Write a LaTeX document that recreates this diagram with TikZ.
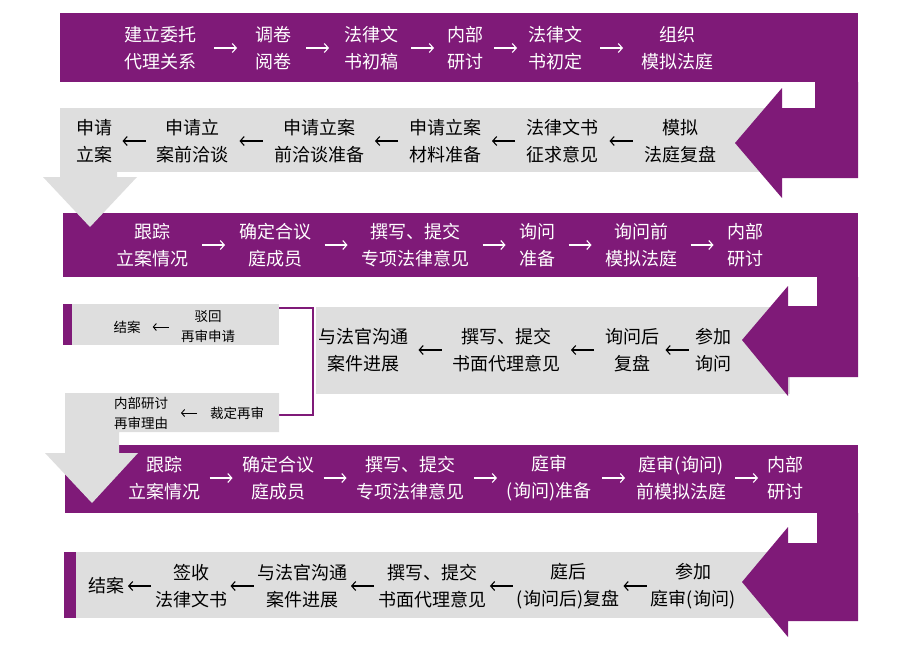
\documentclass[tikz,border=0pt]{standalone}
\usepackage{fontspec}
\setmainfont{Noto Sans CJK SC}
\usetikzlibrary{calc,arrows.meta}
\definecolor{bandpurple}{RGB}{127,26,120}
\definecolor{bandgray}{RGB}{222,222,222}
\tikzset{
  wstep/.style={text=white, font=\fontsize{18}{27}\selectfont, align=center, inner sep=0pt},
  bstep/.style={text=black, font=\fontsize{18}{27}\selectfont, align=center, inner sep=0pt},
  sstep/.style={text=black, font=\fontsize{13.5}{20}\selectfont, align=center, inner sep=0pt},
  fwd/.style={draw=white, line width=1.1pt, -{Straight Barb[length=4pt,width=9pt]},
    to path={($(\tikztostart.east)!.5!(\tikztotarget.west)$) ++(-11.5pt,0) -- ++(23pt,0)}},
  back/.style={draw=black, line width=1.1pt, -{Straight Barb[length=4pt,width=9pt]},
    to path={($(\tikztostart.west)!.5!(\tikztotarget.east)$) ++(11.5pt,0) -- ++(-23pt,0)}},
  sback/.style={draw=black, line width=0.9pt, -{Straight Barb[length=3pt,width=7pt]},
    to path={($(\tikztostart.west)!.5!(\tikztotarget.east)$) ++(8pt,0) -- ++(-16pt,0)}},
}
\begin{document}
\begin{tikzpicture}[x=1pt, y=-1pt]
  \useasboundingbox (0,0) rectangle (900,651);
  \fill[bandpurple] (60,13) rectangle (858,82);
  \fill[bandgray] (60,108) rectangle (790,172);
  \fill[bandpurple] (815,82) -- (858,82) -- (858,178) -- (782,178) -- (782,198) -- (735,143) -- (782,88) -- (782,108) -- (815,108) -- cycle;
  \fill[bandpurple] (63,213) rectangle (858,277);
  \fill[bandgray] (60,172) -- (117,172) -- (117,177) -- (137,177) -- (90,227) -- (43,177) -- (60,177) -- cycle;
  \fill[bandgray] (316,307) rectangle (790,394);
  \fill[bandpurple] (817,277) -- (858,277) -- (858,377) -- (788,377) -- (788,396) -- (742,340) -- (788,286) -- (788,306) -- (817,306) -- cycle;
  \fill[bandpurple] (63,304) rectangle (72,345);
  \fill[bandgray] (72,304) rectangle (279,345);
  \draw[bandpurple, line width=2pt] (279,308) -- (313,308) -- (313,415) -- (279,415);
  \fill[bandpurple] (65,445) rectangle (858,513);
  \fill[bandgray] (65,393) -- (279,393) -- (279,432) -- (119,432) -- (119,453) -- (138,453) -- (92,503) -- (45,453) -- (65,453) -- cycle;
  \fill[bandgray] (76,552) rectangle (790,618);
  \fill[bandpurple] (64,552) rectangle (76,618);
  \fill[bandpurple] (817,513) -- (858,513) -- (858,621) -- (788,621) -- (788,637) -- (742,582) -- (788,527) -- (788,543) -- (817,543) -- cycle;

  \node[wstep] (a1) at (160,48) {建立委托\\代理关系};
  \node[wstep] (a2) at (273,48) {调卷\\阅卷};
  \node[wstep] (a3) at (371,48) {法律文\\书初稿};
  \node[wstep] (a4) at (465,48) {内部\\研讨};
  \node[wstep] (a5) at (555,48) {法律文\\书初定};
  \node[wstep] (a6) at (677,48) {组织\\模拟法庭};
  \foreach \i/\j in {a1/a2,a2/a3,a3/a4,a4/a5,a5/a6}
    \draw[fwd] (\i) to (\j);

  \node[bstep] (b1) at (94,141) {申请\\立案};
  \node[bstep] (b2) at (192,141) {申请立\\案前洽谈};
  \node[bstep] (b3) at (319,141) {申请立案\\前洽谈准备};
  \node[bstep] (b4) at (445,141) {申请立案\\材料准备};
  \node[bstep] (b5) at (562,141) {法律文书\\征求意见};
  \node[bstep] (b6) at (680,141) {模拟\\法庭复盘};
  \foreach \i/\j in {b6/b5,b5/b4,b4/b3,b3/b2,b2/b1}
    \draw[back] (\i) to (\j);

  \node[wstep] (c1) at (152,245) {跟踪\\立案情况};
  \node[wstep] (c2) at (275,245) {确定合议\\庭成员};
  \node[wstep] (c3) at (415,245) {撰写、提交\\专项法律意见};
  \node[wstep] (c4) at (537,245) {询问\\准备};
  \node[wstep] (c5) at (641,245) {询问前\\模拟法庭};
  \node[wstep] (c6) at (745,245) {内部\\研讨};
  \foreach \i/\j in {c1/c2,c2/c3,c3/c4,c4/c5,c5/c6}
    \draw[fwd] (\i) to (\j);

  \node[bstep] (d1) at (713,350) {参加\\询问};
  \node[bstep] (d2) at (632,350) {询问后\\复盘};
  \node[bstep] (d3) at (506,350) {撰写、提交\\书面代理意见};
  \node[bstep] (d4) at (363,350) {与法官沟通\\案件进展};
  \foreach \i/\j in {d1/d2,d2/d3,d3/d4}
    \draw[back] (\i) to (\j);
  \node[sstep] (d5) at (208,327) {驳回\\再审申请};
  \node[sstep] (d6) at (127,327) {结案};
  \node[sstep] (d7) at (237,413) {裁定再审};
  \node[sstep] (d8) at (141,413) {内部研讨\\再审理由};
  \draw[sback] (d5) to (d6);
  \draw[sback] (d7) to (d8);

  \node[wstep] (e1) at (164,478) {跟踪\\立案情况};
  \node[wstep] (e2) at (278,478) {确定合议\\庭成员};
  \node[wstep] (e3) at (410,478) {撰写、提交\\专项法律意见};
  \node[wstep] (e4) at (549,478) {庭审\\(询问)准备};
  \node[wstep] (e5) at (681,478) {庭审(询问)\\前模拟法庭};
  \node[wstep] (e6) at (785,478) {内部\\研讨};
  \foreach \i/\j in {e1/e2,e2/e3,e3/e4,e4/e5,e5/e6}
    \draw[fwd] (\i) to (\j);

  \node[bstep] (f1) at (693,586) {参加\\庭审(询问)};
  \node[bstep] (f2) at (568,586) {庭后\\(询问后)复盘};
  \node[bstep] (f3) at (432,586) {撰写、提交\\书面代理意见};
  \node[bstep] (f4) at (302,586) {与法官沟通\\案件进展};
  \node[bstep] (f5) at (191,586) {签收\\法律文书};
  \node[bstep] (f6) at (106,586) {结案};
  \foreach \i/\j in {f1/f2,f2/f3,f3/f4,f4/f5,f5/f6}
    \draw[back] (\i) to (\j);
\end{tikzpicture}
\end{document}
